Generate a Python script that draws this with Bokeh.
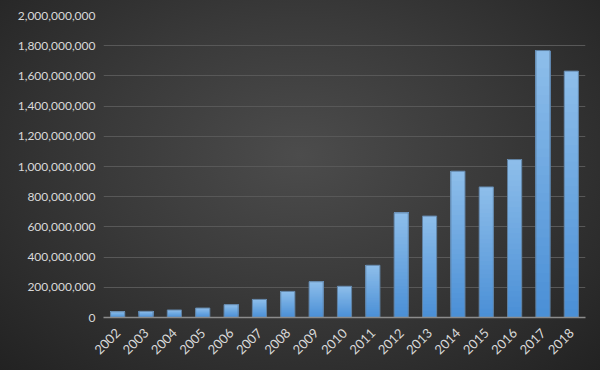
from bokeh.plotting import figure
from bokeh.models import NumeralTickFormatter, FixedTicker, Range1d
from bokeh.embed import file_html
from bokeh.resources import INLINE
import math

years = ["2002", "2003", "2004", "2005", "2006", "2007", "2008", "2009", "2010",
         "2011", "2012", "2013", "2014", "2015", "2016", "2017", "2018"]
values = [38e6, 41e6, 50e6, 63e6, 85e6, 120e6, 173e6, 237e6, 207e6,
          346e6, 693e6, 672e6, 969e6, 865e6, 1046e6, 1768e6, 1632e6]
y_ticks = [0, 200e6, 400e6, 600e6, 800e6, 1000e6, 1200e6, 1400e6, 1600e6, 1800e6, 2000e6]

p = figure(frame_width=482, frame_height=302, x_range=years, y_range=Range1d(0, 2000e6),
           output_backend="svg", toolbar_location=None,
           min_border_left=103, min_border_right=15, min_border_top=15, min_border_bottom=53)
p.border_fill_color = None
p.background_fill_color = None
p.outline_line_color = None
p.styles = {"background": "radial-gradient(ellipse at 50% 42%, #4c4c4c 0%, #3a3a3a 45%, #222222 100%)"}

# vertical gradient bars: overlapping slices from bottom (dark) to top (light)
N = 30
c0 = (0x4a, 0x8f, 0xd6)
c1 = (0x8e, 0xbe, 0xea)
for k in range(N):
    t = (k + 0.5) / N
    col = "#%02x%02x%02x" % tuple(int(round(a + (b - a) * t)) for a, b in zip(c0, c1))
    p.vbar(x=years, bottom=[v * k / N for v in values], top=values,
           width=0.5, fill_color=col, line_color=None)
p.vbar(x=years, top=values, width=0.5, fill_color=None, line_color="#5f7f9f", line_width=1)

p.yaxis.ticker = FixedTicker(ticks=y_ticks)
p.yaxis.formatter = NumeralTickFormatter(format="0,0")
p.ygrid.ticker = FixedTicker(ticks=y_ticks)
p.ygrid.grid_line_color = "#585858"
p.ygrid.grid_line_width = 1
p.xgrid.grid_line_color = None

for ax in (p.xaxis, p.yaxis):
    ax.major_label_text_color = "#d9d9d9"
    ax.major_label_text_font = "Lato"
    ax.major_label_text_font_size = "12px"
    ax.major_tick_line_color = None
    ax.minor_tick_line_color = None
    ax.major_tick_out = 0
    ax.major_tick_in = 0
p.yaxis.axis_line_color = None
p.yaxis.major_label_standoff = 8
p.xaxis.axis_line_color = "#8c8c8c"
p.xaxis.axis_line_width = 1.5
p.xaxis.major_label_orientation = math.pi / 4
p.xaxis.major_label_standoff = 13
p.xaxis.major_label_text_font_size = "13px"
p.x_range.range_padding = 0.0

open("out.html", "w").write(file_html(p, INLINE))
